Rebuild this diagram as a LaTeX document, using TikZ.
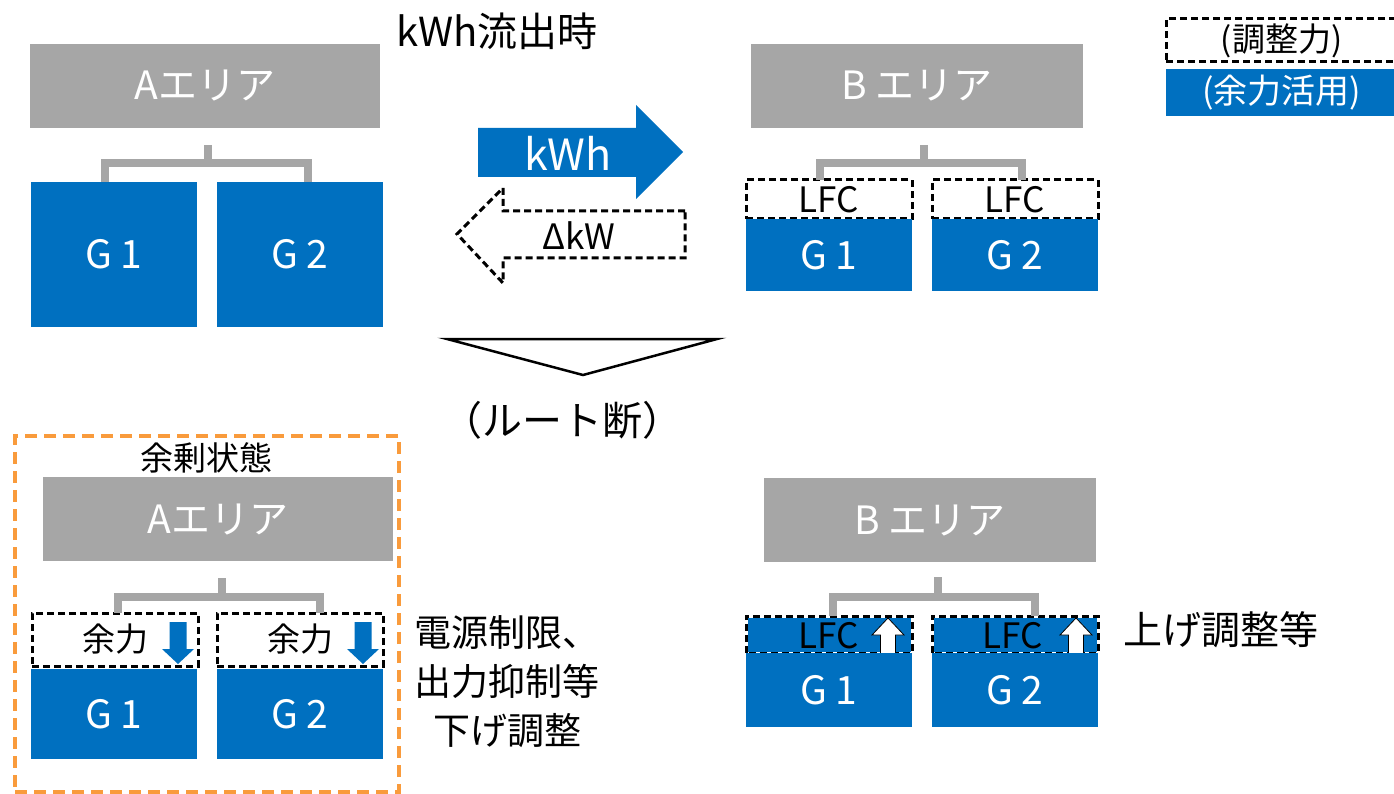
\documentclass[tikz,border=0pt]{standalone}
\usepackage{fontspec}
\setmainfont{Noto Sans CJK JP}
\usetikzlibrary{calc}
\definecolor{mblue}{RGB}{0,112,192}
\definecolor{mgray}{RGB}{166,166,166}
\definecolor{morange}{RGB}{249,155,60}
\newcommand{\fsz}[1]{\fontsize{#1}{#1}\selectfont}
\begin{document}
\begin{tikzpicture}[x=1pt,y=-1pt,
  area/.style={fill=mgray,text=white,inner sep=0pt,outer sep=0pt,minimum height=84pt,font=\fsz{39}},
  gbox/.style={fill=mblue,text=white,inner sep=0pt,outer sep=0pt,minimum width=166pt,font=\fsz{39}},
  dbox/.style={draw=black,fill=white,line width=3pt,dash pattern=on 7pt off 4pt,inner sep=0pt,outer sep=0pt,minimum width=166pt},
  lfcb/.style={fill=mblue,draw=white,line width=3pt,inner sep=0pt,outer sep=0pt,minimum width=166pt,minimum height=37pt},
  blackdash/.style={draw=black,line width=3pt,dash pattern=on 7pt off 4pt},
  bracket/.style={draw=mgray,line width=8pt},
  link/.style={draw=black,line width=8pt},
  dlink/.style={draw=black,line width=3pt,dash pattern=on 12pt off 8pt},
  txt/.style={inner sep=0pt,font=\fsz{40}},
  uparrow/.style={fill=white,draw=black,line width=0.8pt}
]
\useasboundingbox (0,0) rectangle (1394,794);
\clip (0,0) rectangle (1394,794);

% ---------- top ----------
\node[txt] (title) at (497,31) {kWh流出時};
\node[area,minimum width=350pt] (aT) at (205,86) {Aエリア};
\node[area,minimum width=332pt] (bT) at (917,86) {B エリア};
\draw[link] ($(aT.east)+(0,-13.5)$) -- ($(aT.east)+(0,-13.5)$ -| bT.west);
\draw[link] ($(aT.east)+(0,13.5)$) -- ($(aT.east)+(0,13.5)$ -| bT.west);

\node[gbox,minimum height=145pt] (g1T) at (114,254.5) {G 1};
\node[gbox,minimum height=145pt] (g2T) at (300,254.5) {G 2};
\draw[bracket] ($(aT.south)+(3,17)$) -- ($(aT.south)+(3,35)$);
\draw[bracket] ($(g1T.north)+(-9,0)$) |- ($(g2T.north)+(8,-19)$) -- ($(g2T.north)+(8,0)$);

% arrows
\fill[mblue] (478,128) -- (636,128) -- (636,105) -- (683,152) -- (636,199) -- (636,177) -- (478,177) -- cycle;
\node[txt,text=white,font=\fsz{43}] (kwh) at (568,153) {kWh};
\draw[blackdash,fill=white] (685,211) -- (503,211) -- (503,188) -- (457,234) -- (503,283) -- (503,258) -- (685,258) -- cycle;
\node[txt,font=\fsz{35}] (dkw) at (579,236) {ΔkW};

% B top gens
\node[dbox,minimum height=39pt,font=\fsz{35}] (lfc1T) at (829,199.5) {LFC};
\node[dbox,minimum height=39pt,font=\fsz{35}] (lfc2T) at (1015,199.5) {LFC};
\node[gbox,minimum height=72pt] (g1B) at (829,255) {G 1};
\node[gbox,minimum height=72pt] (g2B) at (1015,255) {G 2};
\draw[bracket] ($(bT.south)+(7,17)$) -- ($(bT.south)+(7,35)$);
\draw[bracket] ($(lfc1T.north)+(-9,0)$) |- ($(lfc2T.north)+(7,-17)$) -- ($(lfc2T.north)+(7,0)$);

% legend
\node[dbox,minimum width=231pt,minimum height=43pt,font=\fsz{33}] (leg1) at (1281.5,40.5) {(調整力)};
\node[fill=mblue,text=white,inner sep=0pt,minimum width=231pt,minimum height=47pt,font=\fsz{34}] (leg2) at (1281.5,92.5) {(余力活用)};

% route cut
\draw[line width=2.5pt,line join=miter] (447,339) -- (717,339) -- (583,375) -- cycle;
\node[txt] (cut) at (562,420) {（ルート断）};

% ---------- bottom ----------
\node[draw=morange,line width=4pt,dash pattern=on 12pt off 7pt,minimum width=384pt,minimum height=356pt,inner sep=0pt] (surplus) at (207,614) {};
\node[txt,font=\fsz{33}] (jyo) at (206,458) {余剰状態};
\node[area,minimum width=350pt] (aB) at (218,519) {Aエリア};
\node[area,minimum width=332pt] (bB) at (930,520) {B エリア};
\draw[dlink] ($(aB.east)+(0,-13.5)$) -- ($(aB.east)+(0,-13.5)$ -| bB.west);
\draw[dlink] ($(aB.east)+(0,13.5)$) -- ($(aB.east)+(0,13.5)$ -| bB.west);

\node[dbox,minimum height=53pt,font=\fsz{33}] (y1) at (115,639.5) {余力};
\node[dbox,minimum height=53pt,font=\fsz{33}] (y2) at (300,639.5) {余力};
\node[gbox,minimum height=90pt] (g1A) at (114,714) {G 1};
\node[gbox,minimum height=90pt] (g2A) at (300,714) {G 2};
\draw[bracket] ($(aB.south)+(4,17)$) -- ($(aB.south)+(4,36)$);
\draw[bracket] ($(y1.north)+(3,0)$) |- ($(y2.north)+(20,-16)$) -- ($(y2.north)+(20,0)$);
\foreach \x in {178,363}{
  \fill[mblue] (\x-8.5,622) -- (\x+8.5,622) -- (\x+8.5,649) -- (\x+16,649) -- (\x,664) -- (\x-16,649) -- (\x-8.5,649) -- cycle;
}

\node[txt,align=center,font=\fontsize{37}{49}\selectfont] (lim) at (507,682) {電源制限、\\出力抑制等\\下げ調整};

\node[lfcb] (lfc1B) at (829,634.5) {};
\node[lfcb] (lfc2B) at (1015,634.5) {};
\draw[blackdash] (lfc1B.south west) rectangle (lfc1B.north east);
\draw[blackdash] (lfc2B.south west) rectangle (lfc2B.north east);
\node[txt,font=\fsz{35}] (lfc1Bt) at (829,636) {LFC};
\node[txt,font=\fsz{35}] (lfc2Bt) at (1013,636) {LFC};
\foreach \x in {888,1076}{
  \draw[uparrow] (\x-7.5,653) -- (\x-7.5,635) -- (\x-16,635) -- (\x,618) -- (\x+16,635) -- (\x+7.5,635) -- (\x+7.5,653);
}
\node[gbox,minimum height=74pt] (g1C) at (829,690) {G 1};
\node[gbox,minimum height=74pt] (g2C) at (1015,690) {G 2};
\draw[bracket] ($(bB.south)+(8,15)$) -- ($(bB.south)+(8,35)$);
\draw[bracket] ($(lfc1B.north)+(4,0)$) |- ($(lfc2B.north)+(20,-19)$) -- ($(lfc2B.north)+(20,0)$);

\node[txt,font=\fsz{39}] (up) at (1221,630) {上げ調整等};
\end{tikzpicture}
\end{document}
